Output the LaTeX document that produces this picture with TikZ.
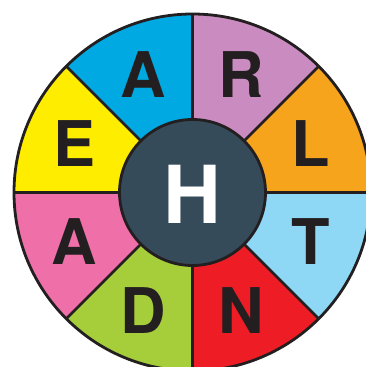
\documentclass[tikz,border=0pt]{standalone}
\usepackage{fontspec}
\setmainfont{TeX Gyre Heros}
\usetikzlibrary{calc}
\definecolor{lineC}{HTML}{231F20}
\definecolor{cA}{HTML}{00A9E2}
\definecolor{cR}{HTML}{C98BC0}
\definecolor{cL}{HTML}{F7A41D}
\definecolor{cT}{HTML}{8ED8F6}
\definecolor{cN}{HTML}{EE1D25}
\definecolor{cD}{HTML}{A6CD3A}
\definecolor{cAl}{HTML}{EF6FA8}
\definecolor{cE}{HTML}{FFED00}
\definecolor{hub}{HTML}{364B59}
\begin{document}
\begin{tikzpicture}[x=1pt,y=1pt,
  letter/.style={font=\fontsize{63}{63}\selectfont\bfseries, text=lineC, inner sep=0pt},
  edge/.style={draw=lineC, line width=2.8pt}]
\useasboundingbox (0,0) rectangle (365,367);
\coordinate (c) at (192.5,174.5);
\def\Ro{178.5}
\foreach \a/\col in {0/cL,45/cR,90/cA,135/cE,180/cAl,225/cD,270/cN,315/cT}{
  \fill[\col] (c) -- ++(\a:\Ro) arc[start angle=\a, end angle=\a+45, radius=\Ro] -- cycle;
}
\foreach \a in {0,45,90,135}{
  \draw[edge] ($(c)+(\a:\Ro)$) -- ($(c)+(\a+180:\Ro)$);
}
\draw[edge] (c) circle[radius=\Ro];
\node[circle, fill=hub, draw=lineC, line width=2.8pt, minimum size=146pt, inner sep=0pt] (hubnode) at (c) {};
\node[font=\fontsize{80}{80}\selectfont\bfseries, text=white, inner sep=0pt] (h) at (192.5,173) {H};
\node[letter] (a1) at ($(c)+(112.5:128)$) {A};
\node[letter] (r) at ($(c)+(67.5:128)$) {R};
\node[letter] (l) at ($(c)+(22.5:128)$) {L};
\node[letter] (t) at ($(c)+(-22.5:128)$) {T};
\node[letter] (n) at ($(c)+(-67.5:128)$) {N};
\node[letter] (d) at ($(c)+(-112.5:128)$) {D};
\node[letter] (a2) at ($(c)+(-157.5:128)$) {A};
\node[letter] (e) at ($(c)+(157.5:128)$) {E};
\end{tikzpicture}
\end{document}
